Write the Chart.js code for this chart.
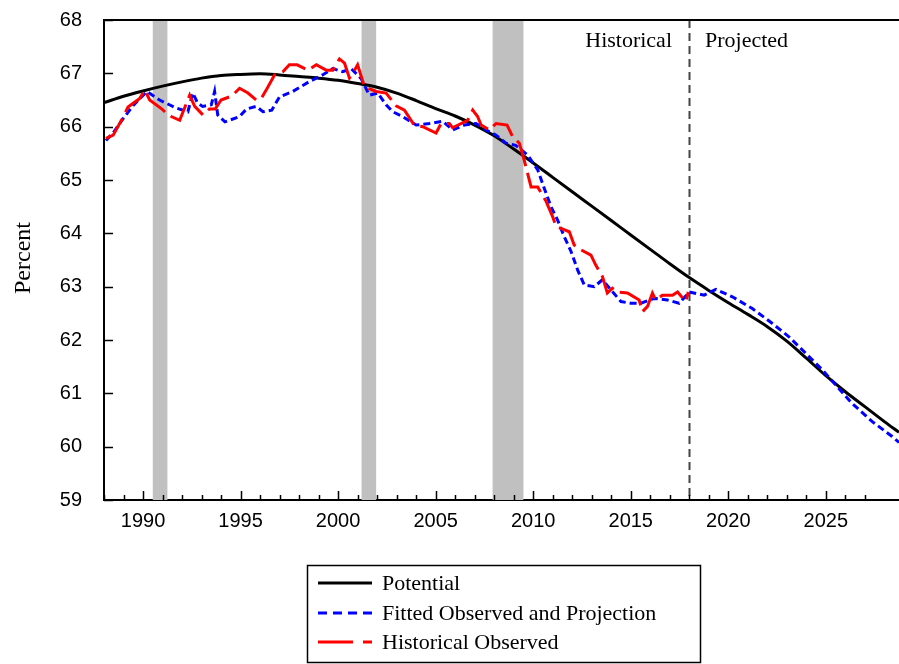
<!DOCTYPE html>
<html>
<head>
<meta charset="utf-8">
<script src="https://cdn.jsdelivr.net/npm/chart.js@4/dist/chart.umd.min.js"></script>
<style>
  html, body { margin: 0; padding: 0; background: #fff; }
</style>
</head>
<body>
<canvas id="chart" width="899" height="664"></canvas>
<script>
// Potential participation rate (smooth trend)
const potentialYears = [1988, 1989, 1990, 1991, 1992, 1993, 1994, 1995, 1996, 1997, 1998, 1999, 2000,
  2001, 2002, 2003, 2004, 2005, 2006, 2007, 2008, 2009, 2010, 2011, 2012, 2013, 2014, 2015, 2016,
  2017, 2018, 2019, 2020, 2021, 2022, 2023, 2024, 2025, 2026, 2027, 2028, 2028.75];
const potentialValues = [66.45, 66.57, 66.67, 66.76, 66.84, 66.91, 66.96, 66.98, 66.99, 66.97, 66.94,
  66.91, 66.87, 66.81, 66.74, 66.63, 66.49, 66.34, 66.2, 66.03, 65.83, 65.58, 65.32, 65.05, 64.78,
  64.51, 64.24, 63.97, 63.7, 63.43, 63.17, 62.93, 62.7, 62.48, 62.25, 61.98, 61.66, 61.33, 61.03,
  60.75, 60.47, 60.27];

// Fitted observed and projection
const fittedYears = [1988.1, 1988.5, 1989.0, 1989.5, 1990.2, 1990.85, 1991.3, 1991.7, 1992.3, 1992.55,
  1992.8, 1993.06, 1993.5, 1993.67, 1993.83, 1994.2, 1994.95, 1995.3, 1995.8, 1996.15, 1996.6, 1997.0,
  1997.68, 1998.5, 1999.2, 1999.73, 2000.24, 2000.67, 2001.18, 2001.6, 2002.03, 2002.46, 2002.8,
  2003.31, 2004.0, 2004.68, 2005.36, 2005.87, 2006.47, 2007.07, 2007.58, 2008.1, 2008.6, 2009.1,
  2009.71, 2010.23, 2010.57, 2010.91, 2011.25, 2011.59, 2011.94, 2012.28, 2012.62, 2013.13, 2013.55,
  2013.98, 2014.5, 2015.0, 2015.52, 2016.2, 2016.88, 2017.48, 2018.0, 2018.76, 2019.36, 2020.21,
  2021.23, 2022.26, 2023.11, 2023.97, 2024.82, 2025.5, 2026.35, 2027.38, 2028.4, 2028.75];
const fittedValues = [65.74, 65.9, 66.16, 66.4, 66.66, 66.5, 66.42, 66.35, 66.28, 66.63,
  66.44, 66.38, 66.41, 66.66, 66.22, 66.09, 66.19, 66.33, 66.38, 66.28, 66.31, 66.56,
  66.66, 66.84, 66.97, 67.09, 67.03, 67.09, 66.9, 66.59, 66.63, 66.41, 66.28,
  66.19, 66.03, 66.06, 66.1, 65.94, 66.03, 66.06, 65.94, 65.84, 65.69, 65.65,
  65.47, 65.19, 64.84, 64.5, 64.25, 63.94, 63.66, 63.31, 63.03, 63.0, 63.13,
  62.94, 62.72, 62.69, 62.69, 62.78, 62.75, 62.69, 62.9, 62.84, 62.95, 62.81,
  62.59, 62.31, 62.06, 61.75, 61.44, 61.16, 60.81, 60.47, 60.19, 60.08];

// Historical observed
const observedYears = [1988.1, 1988.47, 1989.0, 1989.23, 1989.83, 1990.09, 1990.34, 1990.94, 1991.2,
  1991.45, 1991.88, 1992.39, 1992.65, 1993.07, 1993.4, 1993.7, 1994.0, 1994.44, 1994.7, 1994.95,
  1995.38, 1995.8, 1996.05, 1996.32, 1996.74, 1997.17, 1997.5, 1997.9, 1998.45, 1998.88, 1999.39,
  1999.73, 2000.07, 2000.33, 2000.58, 2000.84, 2001.0, 2001.35, 2001.95, 2002.46, 2002.97, 2003.4,
  2003.9, 2004.34, 2005.02, 2005.28, 2005.7, 2005.87, 2006.64, 2006.9, 2007.15, 2007.33, 2007.75,
  2008.1, 2008.66, 2008.95, 2009.29, 2009.54, 2009.71, 2009.89, 2010.23, 2010.66, 2011.0, 2011.17,
  2011.85, 2012.1, 2012.45, 2012.96, 2013.2, 2013.55, 2013.8, 2014.06, 2014.32, 2014.83, 2015.43,
  2015.6, 2015.86, 2016.11, 2016.28, 2016.62, 2017.14, 2017.4, 2017.82, 2017.95];
const observedValues = [65.78, 65.84, 66.19, 66.37, 66.53, 66.69, 66.5, 66.34, 66.25,
  66.19, 66.12, 66.59, 66.38, 66.22, 66.33, 66.33, 66.5, 66.56, 66.63, 66.72,
  66.63, 66.5, 66.52, 66.69, 66.97, 67.03, 67.16, 67.16, 67.06, 67.16, 67.06,
  67.06, 67.27, 67.19, 66.91, 67.06, 67.16, 66.75, 66.66, 66.63, 66.39, 66.31,
  66.03, 66.0, 65.88, 66.06, 66.06, 65.98, 66.12, 66.31, 66.19, 66.03, 65.94,
  66.06, 66.03, 65.81, 65.69, 65.37, 65.13, 64.87, 64.87, 64.6, 64.31, 64.13,
  64.03, 63.78, 63.69, 63.59, 63.41, 63.19, 62.88, 62.97, 62.9, 62.88, 62.75,
  62.53, 62.63, 62.88, 62.75, 62.84, 62.84, 62.9, 62.72, 62.9];

// Recession periods (shaded) and historical / projected split
const recessions = [[1990.5, 1991.25], [2001.2, 2001.95], [2007.92, 2009.5]];
const splitYear = 2018;

function toPoints(xs, ys) {
  return xs.map((x, i) => ({ x: x, y: ys[i] }));
}

const serif = '"Liberation Serif", "Times New Roman", serif';
const sans = '"Liberation Sans", Arial, sans-serif';

// Extra drawing: recession bars, split line, inward ticks, texts and boxed legend
const decorations = {
  id: 'decorations',
  beforeDatasetsDraw(chart) {
    const ctx = chart.ctx;
    const area = chart.chartArea;
    const xs = chart.scales.x;
    ctx.save();
    ctx.fillStyle = '#c0c0c0';
    recessions.forEach(r => {
      const x0 = xs.getPixelForValue(r[0]);
      const x1 = xs.getPixelForValue(r[1]);
      ctx.fillRect(x0, area.top, x1 - x0, area.bottom - area.top);
    });
    const sx = Math.round(xs.getPixelForValue(splitYear)) + 0.5;
    ctx.strokeStyle = '#444';
    ctx.lineWidth = 2;
    ctx.setLineDash([8, 5]);
    ctx.beginPath();
    ctx.moveTo(sx, area.top);
    ctx.lineTo(sx, area.bottom);
    ctx.stroke();
    ctx.restore();
  },
  afterDatasetsDraw(chart) {
    const ctx = chart.ctx;
    const area = chart.chartArea;
    const xs = chart.scales.x;
    const ys = chart.scales.y;
    ctx.save();
    ctx.strokeStyle = '#000';

    // top frame line
    ctx.lineWidth = 2;
    ctx.beginPath();
    ctx.moveTo(area.left, area.top);
    ctx.lineTo(area.right, area.top);
    ctx.stroke();

    // inward tick marks
    ctx.lineWidth = 1.5;
    ctx.beginPath();
    xs.ticks.forEach(t => {
      if (!Number.isInteger(t.value)) return;
      const px = Math.round(xs.getPixelForValue(t.value)) + 0.5;
      const len = t.value % 5 === 0 ? 9 : 5;
      ctx.moveTo(px, area.bottom);
      ctx.lineTo(px, area.bottom - len);
    });
    ys.ticks.forEach(t => {
      const py = Math.round(ys.getPixelForValue(t.value)) + 0.5;
      ctx.moveTo(area.left, py);
      ctx.lineTo(area.left + 9, py);
    });
    ctx.stroke();

    // period labels
    ctx.fillStyle = '#000';
    ctx.font = '22px ' + serif;
    ctx.textBaseline = 'middle';
    ctx.textAlign = 'right';
    ctx.fillText('Historical', 672, 41);
    ctx.textAlign = 'left';
    ctx.fillText('Projected', 705, 41);

    // y axis title
    ctx.save();
    ctx.translate(24, 258);
    ctx.rotate(-Math.PI / 2);
    ctx.textAlign = 'center';
    ctx.font = '24px ' + serif;
    ctx.fillText('Percent', 0, 0);
    ctx.restore();

    // legend box
    ctx.lineWidth = 1.5;
    ctx.strokeRect(307.5, 565.5, 393, 97);
    const legendDash = [[], [9, 6], [35, 10]];
    const rowY = [583, 613, 642];
    chart.data.datasets.forEach((ds, i) => {
      ctx.strokeStyle = ds.borderColor;
      ctx.lineWidth = 3;
      ctx.setLineDash(legendDash[i]);
      ctx.beginPath();
      ctx.moveTo(318, rowY[i]);
      ctx.lineTo(372, rowY[i]);
      ctx.stroke();
      ctx.setLineDash([]);
      ctx.fillStyle = '#000';
      ctx.font = '22px ' + serif;
      ctx.textAlign = 'left';
      ctx.fillText(ds.label, 382, rowY[i] + 1);
    });
    ctx.restore();
  }
};

new Chart(document.getElementById('chart'), {
  type: 'line',
  data: {
    datasets: [{
      label: 'Potential',
      data: toPoints(potentialYears, potentialValues),
      borderColor: '#000000',
      borderWidth: 3,
      cubicInterpolationMode: 'monotone',
      pointRadius: 0,
      order: 3
    }, {
      label: 'Fitted Observed and Projection',
      data: toPoints(fittedYears, fittedValues),
      borderColor: '#0000ff',
      borderWidth: 3,
      borderDash: [7, 4],
      pointRadius: 0,
      order: 2
    }, {
      label: 'Historical Observed',
      data: toPoints(observedYears, observedValues),
      borderColor: '#ff0000',
      borderWidth: 3,
      borderDash: [27, 7],
      pointRadius: 0,
      order: 1
    }]
  },
  options: {
    responsive: false,
    animation: false,
    events: [],
    layout: { padding: { top: 20, right: 0, left: 0, bottom: 0 } },
    plugins: {
      legend: { display: false },
      tooltip: { enabled: false }
    },
    scales: {
      x: {
        type: 'linear',
        min: 1988,
        max: 2028.75,
        afterFit: s => { s.height = 164; s.paddingLeft = 0; s.paddingRight = 0; },
        grid: { display: false },
        border: { display: true, color: '#000', width: 2 },
        ticks: {
          stepSize: 1,
          autoSkip: false,
          maxRotation: 0,
          padding: 1,
          color: '#000',
          font: { family: sans, size: 20 },
          callback: v => (Number.isInteger(v) && v % 5 === 0) ? String(v) : ''
        }
      },
      y: {
        min: 59,
        max: 68,
        afterFit: s => { s.width = 104; s.paddingTop = 0; s.paddingBottom = 0; },
        grid: { display: false },
        border: { display: true, color: '#000', width: 2 },
        ticks: {
          stepSize: 1,
          padding: 14,
          color: '#000',
          font: { family: sans, size: 20 }
        }
      }
    }
  },
  plugins: [decorations]
});
</script>
</body>
</html>
